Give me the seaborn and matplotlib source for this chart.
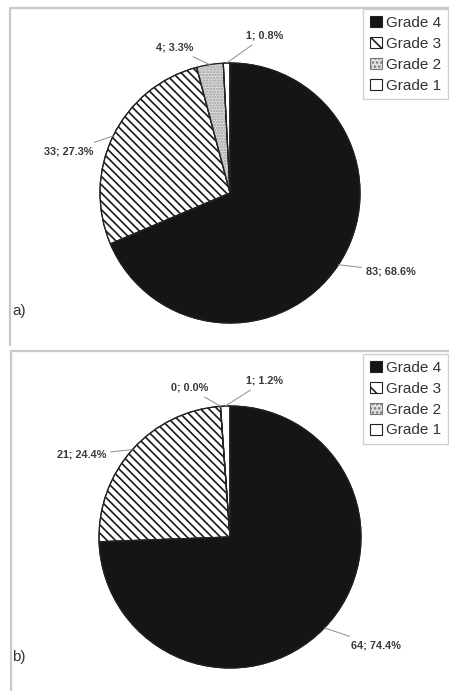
import seaborn as sns
from matplotlib import pyplot as plt
from matplotlib.patches import Patch
from matplotlib.lines import Line2D
import numpy as np

sns.set_theme(style="white")
plt.rcParams['font.family'] = ['Liberation Sans', 'DejaVu Sans']
plt.rcParams['hatch.linewidth'] = 1.2

grades = ['Grade 4', 'Grade 3', 'Grade 2', 'Grade 1']
counts_a = [83, 33, 4, 1]
counts_b = [64, 21, 0, 1]
panel_tags = ['a)', 'b)']

# look of each grade
faces = ['#151515', 'white', '#e2e2e2', 'white']
hatches = [None, '\\\\\\\\', '......', None]
hatch_edges = ['#151515', '#1a1a1a', '#9a9a9a', '#1a1a1a']
legend_hatches = [None, '\\\\', '....', None]

W, H = 449, 691
fig = plt.figure(figsize=(W / 100, H / 100), dpi=100)

# panel geometry in pixels: (top, bottom, centre x, centre y, radius, tag y)
panels = [(0, 345, 230, 193, 130, 311), (345, 691, 230, 537, 131, 657)]
# text anchor for each label in pixels, plus alignment
label_pos = [
    [(366, 271, 'left'), (93, 151, 'right'), (193, 48, 'right'), (246, 36, 'left')],
    [(351, 645, 'left'), (106, 455, 'right'), (208, 388, 'right'), (246, 381, 'left')],
]

for k, counts in enumerate([counts_a, counts_b]):
    top, bot, cx, cy, r, tag_y = panels[k]
    ax = fig.add_axes([0, 1 - bot / H, 1, (bot - top) / H])

    wedges, _ = ax.pie(counts, startangle=90, counterclock=False,
                       colors=faces, radius=1,
                       wedgeprops=dict(linewidth=0.8))
    for w, h, ec in zip(wedges, hatches, hatch_edges):
        w.set_edgecolor(ec)
        if h:
            w.set_hatch(h)
    # dark outline over the hatched slices
    ax.pie(counts, startangle=90, counterclock=False, radius=1,
           wedgeprops=dict(linewidth=0.9, edgecolor='#222', fill=False))

    ax.set_aspect('auto')
    ax.set_xlim(-cx / r, (W - cx) / r)
    ax.set_ylim((cy - bot) / r, (cy - top) / r)
    ax.set_axis_off()

    total = sum(counts)
    for w, n, (px, py, ha) in zip(wedges, counts, label_pos[k]):
        mid = np.deg2rad((w.theta1 + w.theta2) / 2)
        xy = (np.cos(mid), np.sin(mid))
        xt = (px - cx) / r
        yt = (cy - py) / r
        ax.annotate(f"{n}; {100 * n / total:.1f}%", xy=xy, xytext=(xt, yt),
                    ha=ha, va='center', fontsize=7.8, fontweight='bold',
                    color='#3a3a3a',
                    arrowprops=dict(arrowstyle='-', color='#8c8c8c', lw=0.7,
                                    shrinkA=1, shrinkB=0))

    ax.text((12 - cx) / r, (cy - tag_y) / r, panel_tags[k], fontsize=11,
            color='#333', ha='left', va='center')

    handles = [Patch(facecolor=f, edgecolor='#777' if i == 2 else '#222',
                     hatch=h, linewidth=0.8, label=g)
               for i, (f, h, g) in enumerate(zip(faces, legend_hatches, grades))]
    leg = ax.legend(handles=handles, loc='upper right',
                    bbox_to_anchor=(0.998, 1 - 9 / (bot - top)),
                    fontsize=11, frameon=True, fancybox=False,
                    edgecolor='#c4c4c4', handlelength=0.75, handleheight=0.75,
                    handletextpad=0.3, labelspacing=0.45, borderpad=0.45,
                    borderaxespad=0)
    leg.get_frame().set_linewidth(1.0)
    for t in leg.get_texts():
        t.set_color('#333')

# panel frames
frame = dict(color='#c8c8c8', lw=1.6)
fig.add_artist(Line2D([10 / W, 1], [1 - 8 / H, 1 - 8 / H], **frame))
fig.add_artist(Line2D([10 / W, 10 / W], [1 - 8 / H, 1 - 345 / H], **frame))
fig.add_artist(Line2D([11 / W, 1], [1 - 351 / H, 1 - 351 / H], **frame))
fig.add_artist(Line2D([11 / W, 11 / W], [1 - 351 / H, 0], **frame))

fig.savefig('out.png', dpi=100)
